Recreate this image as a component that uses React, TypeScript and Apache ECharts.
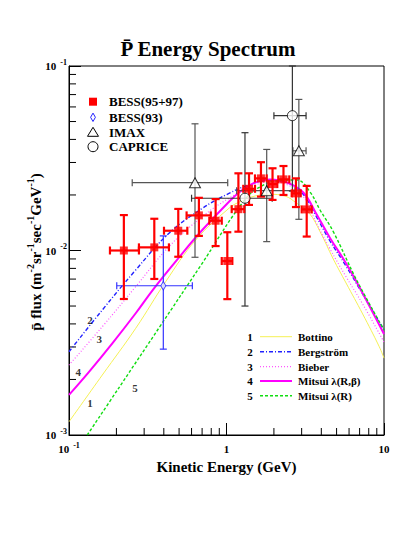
import React, { useEffect, useRef } from 'react';
import * as echarts from 'echarts';

const FONT = '"Liberation Serif", "Times New Roman", serif';

// BESS(95+97)
const bessE = [0.223, 0.348, 0.494, 0.668, 0.853, 1.012, 1.19, 1.39, 1.655, 1.96, 2.3, 2.76, 3.23];
const bessF = [0.01, 0.0104, 0.0128, 0.0155, 0.0145, 0.00877, 0.01675, 0.0216, 0.0246, 0.0229, 0.0243, 0.0204, 0.0167];
const bessElo = [0.182, 0.278, 0.401, 0.558, 0.778, 0.933, 1.079, 1.278, 1.517, 1.843, 2.132, 2.594, 3.003];
const bessEhi = [0.278, 0.431, 0.564, 0.795, 0.933, 1.089, 1.297, 1.517, 1.8, 2.101, 2.504, 2.959, 3.475];
const bessFlo = [0.00546, 0.00701, 0.00925, 0.012, 0.01057, 0.00545, 0.01265, 0.01766, 0.0196, 0.0188, 0.02, 0.0172, 0.0119];
const bessFhi = [0.01556, 0.01486, 0.0168, 0.0193, 0.019, 0.01256, 0.0262, 0.0262, 0.0301, 0.0279, 0.0287, 0.0246, 0.0224];

// BESS(93)
const b93E = [0.397];
const b93F = [0.00644];
const b93Elo = [0.201];
const b93Ehi = [0.607];
const b93Flo = [0.00292];
const b93Fhi = [0.012];

// IMAX
const imaxE = [0.631, 1.8, 2.88];
const imaxF = [0.0233, 0.0211, 0.0347];
const imaxElo = [0.252, 1.16, 2.64];
const imaxEhi = [1.018, 2.72, 3.2];
const imaxFlo = [0.00919, 0.01117, 0.01476];
const imaxFhi = [0.0486, 0.0353, 0.0659];

// CAPRICE
const capE = [1.31, 2.62];
const capF = [0.0192, 0.0538];
const capElo = [0.6, 2.0];
const capEhi = [1.95, 3.2];
const capFlo = [0.005, 0.021];
const capFhi = [0.0435, 0.1];

// model curves
const bottinoE = [0.1, 0.1627, 0.2652, 0.4111, 0.6373, 1.037, 1.218, 1.517, 1.888, 2.35, 2.791, 3.356, 3.925, 4.765, 5.74, 7.32, 9.33, 10];
const bottinoF = [0.00118, 0.002114, 0.003787, 0.00678, 0.0114, 0.01694, 0.01839, 0.01974, 0.02016, 0.01974, 0.01803, 0.01592, 0.01265, 0.00899, 0.00667, 0.00453, 0.00301, 0.00261];
const bergE = [0.1, 0.1627, 0.2652, 0.4315, 0.7018, 1.037, 1.41, 1.834, 2.35, 3.06, 3.7, 4.54, 5.74, 7.32, 10];
const bergF = [0.002828, 0.004759, 0.00784, 0.0124, 0.01693, 0.0204, 0.0228, 0.02395, 0.0235, 0.0202, 0.01538, 0.01126, 0.00824, 0.00581, 0.00371];
const bieberE = [0.1, 0.1627, 0.2652, 0.4315, 0.7018, 1.037, 1.517, 1.945, 2.458, 3.06, 3.7, 4.54, 5.74, 7.32, 10];
const bieberF = [0.002395, 0.003864, 0.00637, 0.0105, 0.01525, 0.01919, 0.02264, 0.0235, 0.02264, 0.01974, 0.01427, 0.0102, 0.00721, 0.00513, 0.00319];
const mitsuiRBE = [0.1, 0.134, 0.1884, 0.2652, 0.3466, 0.4995, 0.7018, 1.037, 1.218, 1.479, 1.888, 2.41, 3.073, 3.7, 4.54, 5.74, 7.32, 10];
const mitsuiRBF = [0.00165, 0.0022, 0.00314, 0.00457, 0.00624, 0.00918, 0.01291, 0.01839, 0.02083, 0.02313, 0.02425, 0.02339, 0.02063, 0.01592, 0.0117, 0.00853, 0.00587, 0.00353];
const mitsuiRE = [0.1306, 0.2108, 0.3783, 0.6789, 1.311, 1.713, 2.186, 2.803, 3.39, 3.925, 4.765, 6.64, 10];
const mitsuiRF = [0.001, 0.00184, 0.00388, 0.00818, 0.01892, 0.02264, 0.02395, 0.0241, 0.02075, 0.01658, 0.01265, 0.00702, 0.00371];

// curve number labels on the plot
const curveTags = ['1', '2', '3', '4', '5'];
const tagE = [0.136, 0.136, 0.1557, 0.1146, 0.2624];
const tagF = [0.0015, 0.0042, 0.0033, 0.00219, 0.0018];

const curveNames = ['Bottino', 'Bergstr\u00f6m', 'Bieber', 'Mitsui \u03bb(R,\u03b2)', 'Mitsui \u03bb(R)'];
const dataNames = ['BESS(95+97)', 'BESS(93)', 'IMAX', 'CAPRICE'];

// minor tick positions
const xMinor = [0.2, 0.3, 0.4, 0.5, 0.6, 0.7, 0.8, 0.9, 2, 3, 4, 5, 6, 7, 8, 9];
const yMinor = [0.002, 0.003, 0.004, 0.005, 0.006, 0.007, 0.008, 0.009, 0.02, 0.03, 0.04, 0.05, 0.06, 0.07, 0.08, 0.09];

const curveStyles = [
  { color: '#f5f055', width: 1, type: 'solid' as any },
  { color: '#2222ff', width: 1.4, type: [4, 2, 1, 2] as any },
  { color: '#ff55ff', width: 1.2, type: [1, 2] as any },
  { color: '#ff00ff', width: 2, type: 'solid' as any },
  { color: '#11dd11', width: 1.4, type: [3, 2] as any },
];

const zip = (a: number[], b: number[]) => a.map((v, i) => [v, b[i]]);
const rows = (e: number[], f: number[], elo: number[], ehi: number[], flo: number[], fhi: number[]) =>
  e.map((v, i) => [v, f[i], elo[i], ehi[i], flo[i], fhi[i]]);

const errSeries = (data: number[][], color: string, lw: number, cap: number) => ({
  type: 'custom',
  silent: true,
  encode: { x: 0, y: 1 },
  data,
  renderItem: (_p: any, api: any) => {
    const e = api.value(0), f = api.value(1);
    const l = api.coord([api.value(2), f]);
    const r = api.coord([api.value(3), f]);
    const t = api.coord([e, api.value(5)]);
    const b = api.coord([e, api.value(4)]);
    const st = { stroke: color, lineWidth: lw };
    const ln = (x1: number, y1: number, x2: number, y2: number) => ({ type: 'line', shape: { x1, y1, x2, y2 }, style: st });
    return {
      type: 'group',
      children: [
        ln(l[0], l[1], r[0], r[1]),
        ln(t[0], t[1], b[0], b[1]),
        ln(l[0], l[1] - cap, l[0], l[1] + cap),
        ln(r[0], r[1] - cap, r[0], r[1] + cap),
        ln(t[0] - cap, t[1], t[0] + cap, t[1]),
        ln(b[0] - cap, b[1], b[0] + cap, b[1]),
      ],
    };
  },
});

const tickSeries = (data: number[][], horizontal: boolean) => ({
  type: 'custom',
  silent: true,
  clip: false,
  encode: { x: 0, y: 1 },
  data,
  renderItem: (_p: any, api: any) => {
    const p = api.coord([api.value(0), api.value(1)]);
    return {
      type: 'line',
      shape: horizontal
        ? { x1: p[0], y1: p[1], x2: p[0] + 7, y2: p[1] }
        : { x1: p[0], y1: p[1], x2: p[0], y2: p[1] - 7 },
      style: { stroke: '#000', lineWidth: 1 },
    };
  },
});

const supRich = {
  b: { fontFamily: FONT, fontWeight: 'bold', fontSize: 11, color: '#000', lineHeight: 16 },
  s: { fontFamily: FONT, fontWeight: 'bold', fontSize: 8, color: '#000', lineHeight: 8, verticalAlign: 'top', padding: [0, 0, 0, 4] },
};

const expLabel = (v: number) => {
  const k = Math.round(Math.log10(v));
  if (k === 0) return '{b|1}';
  if (k === 1) return '{b|10}';
  return '{b|10}{s|' + k + '}';
};

export default function App() {
  const ref = useRef<HTMLDivElement>(null);

  useEffect(() => {
    if (!ref.current) return;
    const chart = echarts.init(ref.current, undefined, { renderer: 'svg' });

    const curves = [
      zip(bottinoE, bottinoF),
      zip(bergE, bergF),
      zip(bieberE, bieberF),
      zip(mitsuiRBE, mitsuiRBF),
      zip(mitsuiRE, mitsuiRF),
    ];

    // legends
    const legendG: any[] = [];
    const topRows = [101.7, 117.3, 132.3, 146.7];
    const mx = 93;
    legendG.push({ type: 'rect', shape: { x: mx - 4, y: topRows[0] - 4, width: 8, height: 8 }, style: { fill: '#ff0000' } });
    legendG.push({
      type: 'polygon',
      shape: { points: [[mx, topRows[1] - 4.2], [mx + 2.4, topRows[1]], [mx, topRows[1] + 4.2], [mx - 2.4, topRows[1]]] },
      style: { fill: '#fff', stroke: '#2222ff', lineWidth: 1 },
    });
    legendG.push({
      type: 'polygon',
      shape: { points: [[mx, topRows[2] - 5], [mx + 5.5, topRows[2] + 4], [mx - 5.5, topRows[2] + 4]] },
      style: { fill: '#fff', stroke: '#000', lineWidth: 1 },
    });
    legendG.push({ type: 'circle', shape: { cx: mx, cy: topRows[3], r: 5 }, style: { fill: '#fff', stroke: '#000', lineWidth: 1 } });
    dataNames.forEach((n, i) => {
      legendG.push({
        type: 'text', x: 109, y: topRows[i],
        style: { text: n, fontFamily: FONT, fontWeight: 'bold', fontSize: 13, fill: '#000', verticalAlign: 'middle', align: 'left' },
      });
    });
    const botRows = [336.7, 351.7, 366.7, 381, 395.7];
    curveNames.forEach((n, i) => {
      const s = curveStyles[i];
      legendG.push({
        type: 'text', x: 250, y: botRows[i],
        style: { text: curveTags[i], fontFamily: FONT, fontWeight: 'bold', fontSize: 11, fill: '#000', verticalAlign: 'middle', align: 'center' },
      });
      legendG.push({
        type: 'line', shape: { x1: 260, y1: botRows[i], x2: 292, y2: botRows[i] },
        style: { stroke: s.color, lineWidth: s.width, lineDash: s.type === 'solid' ? null : s.type },
      });
      legendG.push({
        type: 'text', x: 298, y: botRows[i],
        style: { text: n, fontFamily: FONT, fontWeight: 'bold', fontSize: 11, fill: '#000', verticalAlign: 'middle', align: 'left' },
      });
    });

    const option: any = {
      animation: false,
      backgroundColor: '#fff',
      grid: { left: 69, top: 66, width: 315, height: 369, show: true, borderColor: '#000', borderWidth: 1, backgroundColor: 'transparent' },
      xAxis: {
        type: 'log', logBase: 10, min: 0.1, max: 10,
        axisLine: { show: true, lineStyle: { color: '#000', width: 1 } },
        axisTick: { show: true, inside: true, length: 12, lineStyle: { color: '#000' } },
        splitLine: { show: false },
        minorTick: { show: false },
        axisLabel: { formatter: expLabel, rich: supRich, margin: 6 },
        name: 'Kinetic Energy (GeV)',
        nameLocation: 'middle',
        nameGap: 23,
        nameTextStyle: { fontFamily: FONT, fontWeight: 'bold', fontSize: 15, color: '#000' },
      },
      yAxis: {
        type: 'log', logBase: 10, min: 0.001, max: 0.1,
        axisLine: { show: true, lineStyle: { color: '#000', width: 1 } },
        axisTick: { show: true, inside: true, length: 12, lineStyle: { color: '#000' } },
        splitLine: { show: false },
        axisLabel: { formatter: expLabel, rich: supRich, margin: 2 },
      },
      graphic: [
        {
          type: 'text', x: 208, y: 49,
          style: { text: 'P\u0304 Energy Spectrum', fontFamily: FONT, fontWeight: 'bold', fontSize: 21, fill: '#000', align: 'center', verticalAlign: 'middle' },
        },
        {
          type: 'text', x: 36, y: 252, rotation: Math.PI / 2,
          style: {
            text: '{m|p\u0304 flux (m}{s|-2}{m|sr}{s|-1}{m|sec}{s|-1}{m|GeV}{s|-1}{m|)}',
            align: 'center', verticalAlign: 'middle',
            rich: {
              m: { fontFamily: FONT, fontWeight: 'bold', fontSize: 15, fill: '#000', lineHeight: 22 },
              s: { fontFamily: FONT, fontWeight: 'bold', fontSize: 10, fill: '#000', lineHeight: 10, verticalAlign: 'top' },
            },
          },
        },
        ...legendG,
      ],
      series: [
        ...curves.map((d, i) => ({
          type: 'line',
          data: d,
          smooth: 0.4,
          showSymbol: false,
          symbol: 'none',
          silent: true,
          lineStyle: { color: curveStyles[i].color, width: curveStyles[i].width, type: curveStyles[i].type },
          z: 2,
        })),
        {
          type: 'scatter',
          symbolSize: 0,
          silent: true,
          data: curveTags.map((t, i) => ({ value: [tagE[i], tagF[i]], name: t })),
          label: { show: true, position: 'inside', formatter: '{b}', fontFamily: FONT, fontWeight: 'bold', fontSize: 11, color: '#000' },
          z: 3,
        },
        tickSeries(yMinor.map((v) => [0.1, v]), true),
        tickSeries(xMinor.map((v) => [v, 0.001]), false),
        { ...errSeries(rows(imaxE, imaxF, imaxElo, imaxEhi, imaxFlo, imaxFhi), '#555', 1.2, 3.5), z: 4 },
        { ...errSeries(rows(capE, capF, capElo, capEhi, capFlo, capFhi), '#333', 1.2, 3.5), z: 4 },
        { ...errSeries(rows(b93E, b93F, b93Elo, b93Ehi, b93Flo, b93Fhi), '#3333ff', 1.2, 3.5), z: 4 },
        { ...errSeries(rows(bessE, bessF, bessElo, bessEhi, bessFlo, bessFhi), '#ff0000', 2.2, 4), z: 5 },
        {
          type: 'scatter', symbol: 'triangle', symbolSize: [11, 10], data: zip(imaxE, imaxF), silent: true,
          itemStyle: { color: '#fff', borderColor: '#000', borderWidth: 1 }, z: 6,
        },
        {
          type: 'scatter', symbol: 'circle', symbolSize: 10, data: zip(capE, capF), silent: true,
          itemStyle: { color: '#fff', borderColor: '#000', borderWidth: 1 }, z: 6,
        },
        {
          type: 'scatter', symbol: 'diamond', symbolSize: [5, 8.5], data: zip(b93E, b93F), silent: true,
          itemStyle: { color: '#fff', borderColor: '#2222ff', borderWidth: 1 }, z: 6,
        },
        {
          type: 'scatter', symbol: 'rect', symbolSize: 8, data: zip(bessE, bessF), silent: true,
          itemStyle: { color: '#ff0000' }, z: 7,
        },
      ],
    };

    chart.setOption(option);
    return () => chart.dispose();
  }, []);

  return <div ref={ref} style={{ position: 'fixed', left: 0, top: 0, width: 417, height: 554, background: '#fff' }} />;
}
